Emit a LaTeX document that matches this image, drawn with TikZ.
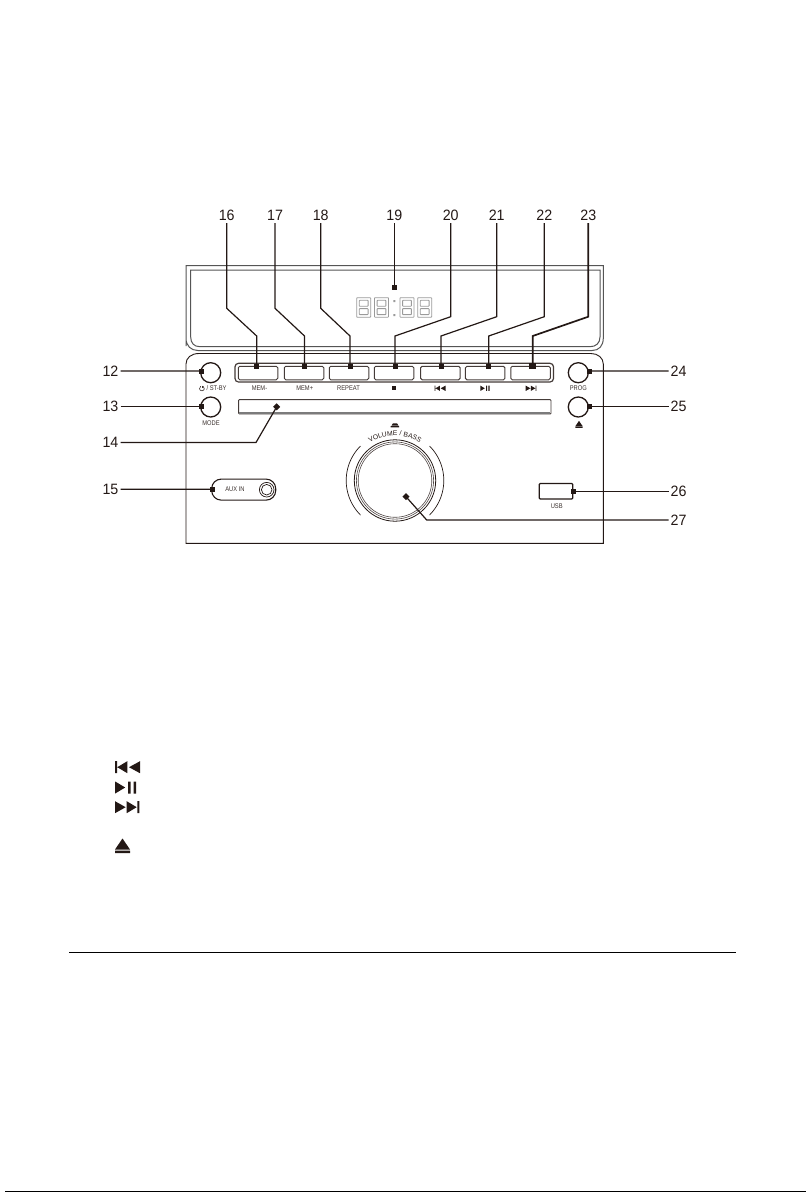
\documentclass[tikz,border=0pt]{standalone}
\usepackage{fontspec}
\setmainfont{Liberation Sans}
\usetikzlibrary{decorations.text,shapes.misc}
\definecolor{ink}{HTML}{231815}
\definecolor{panelgrey}{HTML}{555555}
\definecolor{seggrey}{HTML}{9A9A9A}
\tikzset{
 num/.style={font=\fontsize{15}{15}\selectfont,text=ink,inner sep=2pt,xscale=.95},
 tiny/.style={font=\fontsize{6.8}{6.8}\selectfont,text=ink!90,inner sep=0pt,xscale=.85},
 lead/.style={draw=ink,line width=1.2pt,line join=miter},
 leadthick/.style={draw=ink,line width=1.7pt,line join=miter},
 tip/.style={fill=ink,inner sep=0pt,minimum size=5pt,rectangle},
 panel/.style={draw=ink,line width=.9pt},
 upper/.style={draw=panelgrey,line width=1pt},
 btn/.style={draw=ink!85,line width=1pt,rounded corners=1.5pt,minimum width=39.5pt,minimum height=13.5pt,inner sep=0pt},
 roundbtn/.style={circle,draw=ink,line width=1.3pt,minimum size=20pt,inner sep=0pt},
 seg/.style={draw=seggrey,line width=.85pt,rounded corners=.6pt},
 rwd/.pic={\fill[ink] (-12.5,-6) rectangle (-10.5,6) (-10.2,0)--(-.2,-6)--(-.2,6)--cycle (1.5,0)--(12.5,-6)--(12.5,6)--cycle;},
 pp/.pic={\fill[ink] (-10.5,-6) -- (-.5,0) -- (-10.5,6) --cycle (2.5,-6) rectangle (5,6) (7.8,-6) rectangle (10.5,6);},
 ffw/.pic={\fill[ink] (-12,-6)--(-1.3,0)--(-12,6)--cycle (-.3,-6)--(9.7,0)--(-.3,6)--cycle (10.3,-6) rectangle (12.3,6);},
 ejc/.pic={\fill[ink] (-7.5,4)--(0,-7)--(7.5,4)--cycle (-7.5,5) rectangle (7.5,7.5);},
 stp/.pic={\fill[ink] (-2.4,-2.4) rectangle (2.4,2.4);},
 digit/.pic={\draw[seg] (0,0) rectangle (14,19.5);\draw[seg] (2.6,2.6) rectangle (11.4,8.6);\draw[seg] (2.6,10.9) rectangle (11.4,16.9);},
}
\begin{document}
\begin{tikzpicture}[x=1pt,y=-1pt]
\useasboundingbox (0,0) rectangle (806,1192);
% upper housing
\draw[upper] (186,346) -- (186,265.7) -- (603.3,265.7) -- (603.3,338) .. controls (603.3,346) and (599,350.5) .. (592,350.5) -- (198,350.5) .. controls (191,350.5) and (186,346) .. (186,338);
\draw[upper] (190.7,270) -- (600,270) -- (600,337) .. controls (600,343) and (596,346.7) .. (590,346.7) -- (200,346.7) .. controls (194,346.7) and (190.7,343) .. (190.7,337) -- cycle;
% lower housing
\draw[panel] (186,364) .. controls (186,358) and (191,353.5) .. (199,353.5) -- (591,353.5) .. controls (598,353.5) and (603.3,358) .. (603.3,364) -- (603.3,543.3) -- (186,543.3) -- cycle;
% display
\pic at (356.7,297.7) {digit};
\pic at (374.5,297.7) {digit};
\pic at (400,297.7) {digit};
\pic at (417.7,297.7) {digit};
\fill[seggrey] (393.3,300) rectangle (395.3,302.2) (393.3,314) rectangle (395.3,316.2);
% button bar
\draw[draw=ink!85,line width=1.2pt,rounded corners=3.5pt] (235,363.3) rectangle (553.5,382);
\node[btn] (b16) at (258,373) {};
\node[btn] (b17) at (304,373) {};
\node[btn] (b18) at (349,373) {};
\node[btn] (b20) at (394,373) {};
\node[btn] (b21) at (440.3,373) {};
\node[btn] (b22) at (485.2,373) {};
\node[btn] (b23) at (530.5,373) {};
\node[tiny] (t16) at (259.5,388.3) {MEM-};
\node[tiny] (t17) at (304.7,388.3) {MEM+};
\node[tiny] (t18) at (348.5,388.3) {REPEAT};
\pic[scale=.9] at (394.3,388.3) {stp};
\pic[scale=.44] at (440,388.3) {rwd};
\pic[scale=.44] at (485,388.3) {pp};
\pic[scale=.44] at (531,388.3) {ffw};
% slot
\draw[draw=ink!85,line width=.9pt,rounded corners=.8pt] (238.6,399.6) rectangle (551,414);
\draw[draw=seggrey!80!black,line width=2pt] (239.3,413) -- (550.3,413);
% round buttons
\node[roundbtn] (c12) at (210.7,372.7) {};
\node[roundbtn] (c13) at (210.7,407) {};
\node[roundbtn] (c24) at (578.3,372.7) {};
\node[roundbtn] (c25) at (578.3,407) {};
\node[tiny] (t12) at (216.6,388.3) {/ ST-BY};
\draw[draw=ink!90,line width=.6pt] (200.7,386.2) .. controls (198.9,387) and (198.9,390.8) .. (201.9,390.8) .. controls (204.9,390.8) and (204.9,387) .. (203.1,386.2);
\draw[draw=ink!90,line width=.6pt] (201.9,385.6) -- (201.9,388.1);
\node[tiny] (t13) at (211,423.3) {MODE};
\node[tiny] (t24) at (578.3,388.3) {PROG};
\pic[scale=.48] at (579,424.2) {ejc};
% aux
\node[draw=ink,line width=1.1pt,rounded corners=9.5pt,minimum width=64pt,minimum height=21pt,inner sep=0pt] (aux) at (243.7,489.6) {};
\node[tiny] (tAux) at (235,489.2) {AUX IN};
\draw[draw=ink,line width=.7pt] (266.7,489.7) circle[radius=7.3];
\draw[draw=ink,line width=.7pt] (266.7,489.7) circle[radius=5.3];
% knob
\node[circle,draw=ink,line width=.8pt,minimum size=81.4pt,inner sep=0pt] (knob) at (395,480.5) {};
\draw[draw=ink!80,line width=.6pt] (knob.center) circle[radius=38.6];
\draw[draw=ink!80,line width=.6pt] (knob.center) circle[radius=36.8];
\draw[draw=ink,line width=.7pt] plot[smooth,samples=30,domain=135:225] ({395+48.8*cos(\x)},{480.5-48.8*sin(\x)});
\draw[draw=ink,line width=.7pt] plot[smooth,samples=30,domain=-45:45] ({395+48.8*cos(\x)},{480.5-48.8*sin(\x)});
\path[decorate,decoration={text along path,text align=center,text={|\fontsize{6.8}{6.8}\selectfont\color{ink}|VOLUME / BASS}}] (366.1,446) .. controls (382.8,432) and (407.2,432) .. (423.9,446);
\fill[ink] (391.5,425.6) -- (393,423.3) -- (397,423.3) -- (398.5,425.6) -- cycle (390.5,426.2) rectangle (399,427.4);
% usb
\node[draw=ink,line width=1.3pt,rounded corners=1pt,minimum width=33.5pt,minimum height=15.5pt,inner sep=0pt] (usb) at (556,491.3) {};
\node[tiny] (tUsb) at (556.7,506.3) {USB};
% labels
\node[num,anchor=east] (n12) at (120.5,370.9) {12};
\node[num,anchor=east] (n13) at (120.5,406.7) {13};
\node[num,anchor=east] (n14) at (120.5,442.5) {14};
\node[num,anchor=east] (n15) at (120.5,489.2) {15};
\node[num,anchor=south] (n16) at (226.7,223) {16};
\node[num,anchor=south] (n17) at (275,223) {17};
\node[num,anchor=south] (n18) at (320.7,223) {18};
\node[num,anchor=south] (n19) at (394.3,223) {19};
\node[num,anchor=south] (n20) at (450.7,223) {20};
\node[num,anchor=south] (n21) at (496.7,223) {21};
\node[num,anchor=south] (n22) at (544.3,223) {22};
\node[num,anchor=south] (n23) at (588.3,223) {23};
\node[num,anchor=west] (n24) at (668.5,370.9) {24};
\node[num,anchor=west] (n25) at (668.5,406.7) {25};
\node[num,anchor=west] (n26) at (668.5,491.7) {26};
\node[num,anchor=west] (n27) at (668.5,520) {27};
% tips
\node[tip] (d12) at (201.5,371) {};
\node[tip] (d13) at (201.5,406.7) {};
\node[tip,rotate=45] (d14) at (276.7,406.8) {};
\node[tip] (d15) at (212.5,489.3) {};
\node[tip] (d16) at (256.7,366) {};
\node[tip] (d17) at (304.5,366) {};
\node[tip] (d18) at (350,366) {};
\node[tip] (d19) at (394.3,287.3) {};
\node[tip] (d20) at (395,366) {};
\node[tip] (d21) at (441,366) {};
\node[tip] (d22) at (488.7,366) {};
\node[tip,minimum size=6.5pt] (d23) at (532.7,366) {};
\node[tip] (d24) at (589.3,371) {};
\node[tip] (d25) at (589.3,406.7) {};
\node[tip] (d26) at (573,491.7) {};
\node[tip,rotate=45] (d27) at (406,496.7) {};
\coordinate (k14) at (256,442.5);
\coordinate (k16a) at (226.7,308.3);
\coordinate (k16b) at (256.7,336);
\coordinate (k17a) at (275,308.3);
\coordinate (k17b) at (304.5,336);
\coordinate (k18a) at (320.7,308.3);
\coordinate (k18b) at (350,336);
\coordinate (k20a) at (450.7,316.7);
\coordinate (k20b) at (395,336);
\coordinate (k21a) at (496.7,316.7);
\coordinate (k21b) at (441,336);
\coordinate (k22a) at (544.3,316.7);
\coordinate (k22b) at (488.7,336);
\coordinate (k23a) at (588.3,316.7);
\coordinate (k23b) at (532.7,336);
\coordinate (k27) at (426.7,520);
% leaders
\draw[lead] (n12.east) -- (d12.center);
\draw[lead] (n13.east) -- (d13.center);
\draw[lead] (n14.east) -- (k14) -- (d14.center);
\draw[lead] (n15.east) -- (d15.center);
\draw[lead] (n16.south) -- (k16a) -- (k16b) -- (d16.center);
\draw[lead] (n17.south) -- (k17a) -- (k17b) -- (d17.center);
\draw[lead] (n18.south) -- (k18a) -- (k18b) -- (d18.center);
\draw[lead] (n19.south) -- (d19.center);
\draw[lead] (n20.south) -- (k20a) -- (k20b) -- (d20.center);
\draw[lead] (n21.south) -- (k21a) -- (k21b) -- (d21.center);
\draw[lead] (n22.south) -- (k22a) -- (k22b) -- (d22.center);
\draw[leadthick] (n23.south) -- (k23a) -- (k23b) -- (d23.center);
\draw[lead] (n24.west) -- (d24.center);
\draw[lead] (n25.west) -- (d25.center);
\draw[lead] (n26.west) -- (d26.center);
\draw[lead] (n27.west) -- (k27) -- (d27.center);
% legend icons
\pic at (127.5,767.2) {rwd};
\pic at (125.7,787.5) {pp};
\pic at (127,807.2) {ffw};
\pic at (122.5,845.5) {ejc};
% rule and bottom edge
\draw[draw=black,line width=1.3pt] (69.4,952.7) -- (736,952.7);
\draw[draw=black,line width=1pt] (5,1191.5) -- (806,1191.5);
\end{tikzpicture}
\end{document}
